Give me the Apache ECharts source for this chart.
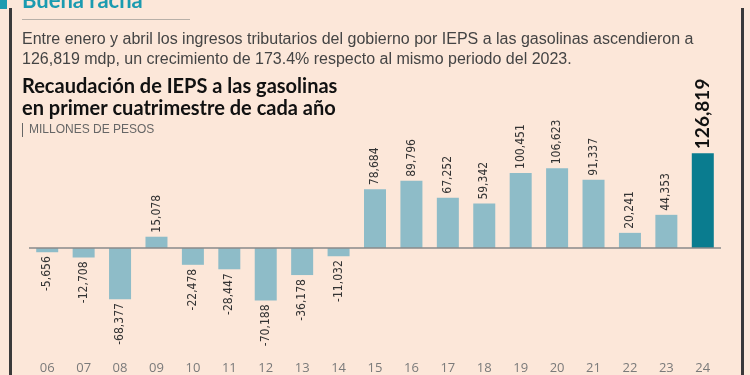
<!DOCTYPE html>
<html lang="es">
<head>
<meta charset="utf-8" />
<title>Buena racha</title>
<script src="https://cdn.jsdelivr.net/npm/echarts@6/dist/echarts.min.js"></script>
<style>
  html, body { margin: 0; padding: 0; background: #FCE7D9; }
  #chart { width: 750px; height: 375px; }
</style>
</head>
<body>
<div id="chart"></div>
<script>
// años (primer cuatrimestre) y variación anual en millones de pesos
var years = ['06', '07', '08', '09', '10', '11', '12', '13', '14', '15',
             '16', '17', '18', '19', '20', '21', '22', '23', '24'];
var values = [-5656, -12708, -68377, 15078, -22478, -28447, -70188, -36178, -11032, 78684,
              89796, 67252, 59342, 100451, 106623, 91337, 20241, 44353, 126819];

var lightBar = '#8EBCC8';
var darkBar = '#0A7C8F';
var numFont = '"DejaVu Sans Condensed", sans-serif';

var chart = echarts.init(document.getElementById('chart'));

var barData = values.map(function (v, i) {
  var last = i === values.length - 1;
  return {
    value: v,
    itemStyle: { color: last ? darkBar : lightBar },
    label: {
      show: true,
      position: v < 0 ? 'bottom' : 'top',
      rotate: 90,
      align: v < 0 ? 'right' : 'left',
      verticalAlign: 'middle',
      distance: 4,
      fontFamily: last ? 'Lato, "DejaVu Sans", sans-serif' : numFont,
      fontWeight: last ? 'bold' : 'normal',
      fontSize: last ? 19 : 12,
      color: last ? '#111' : '#333',
      formatter: function (p) { return p.value.toLocaleString('en-US'); }
    }
  };
});

chart.setOption({
  backgroundColor: '#FCE7D9',
  animation: false,
  grid: { left: 29, width: 692, top: 143.3, height: 209.4, outerBoundsMode: 'none' },
  xAxis: [{
    type: 'category',
    data: years,
    axisLine: { show: false },
    axisTick: { show: false },
    axisLabel: {
      margin: 9,
      color: '#7A7A7A',
      fontSize: 13,
      fontFamily: '"Open Sans", Lato, sans-serif'
    }
  }],
  yAxis: {
    type: 'value',
    min: -140000,
    max: 140000,
    show: false,
    splitLine: { show: false }
  },
  series: [{
    type: 'bar',
    barWidth: 22,
    data: barData,
    markLine: {
      silent: true,
      symbol: 'none',
      label: { show: false },
      lineStyle: { color: '#8A8A8A', width: 1.5, type: 'solid' },
      data: [{ yAxis: 0 }]
    }
  }],
  graphic: [
    // marco
    { type: 'rect', shape: { x: 9, y: 8, width: 3, height: 367 }, style: { fill: '#3A3A3A' } },
    { type: 'rect', shape: { x: 741, y: 8, width: 3, height: 367 }, style: { fill: '#3A3A3A' } },
    { type: 'rect', shape: { x: 0, y: 0, width: 7, height: 9 }, style: { fill: '#1B9BB0' } },
    { type: 'text', left: 22, top: -10, style: {
        text: 'Buena racha', fill: '#1B9BB0',
        font: 'bold 22px Lato, "DejaVu Sans", sans-serif' } },
    { type: 'line', shape: { x1: 22, y1: 19.5, x2: 190, y2: 19.5 },
      style: { stroke: '#B8B0A8', lineWidth: 1 } },
    { type: 'text', left: 22, top: 30, style: {
        text: 'Entre enero y abril los ingresos tributarios del gobierno por IEPS a las gasolinas ascendieron a\n126,819 mdp, un crecimiento de 173.4% respecto al mismo periodo del 2023.',
        fill: '#444', lineHeight: 19.5,
        font: '16px "Liberation Sans", sans-serif' } },
    { type: 'text', left: 22, top: 76, style: {
        text: 'Recaudación de IEPS a las gasolinas\nen primer cuatrimestre de cada año',
        fill: '#111', lineHeight: 22,
        font: 'bold 20px Lato, "DejaVu Sans", sans-serif' } },
    { type: 'line', shape: { x1: 22.5, y1: 123, x2: 22.5, y2: 137 },
      style: { stroke: '#666', lineWidth: 1 } },
    { type: 'text', left: 29, top: 124, style: {
        text: 'MILLONES DE PESOS', fill: '#666',
        font: '12px "Liberation Sans", sans-serif' } }
  ]
});
</script>
</body>
</html>
